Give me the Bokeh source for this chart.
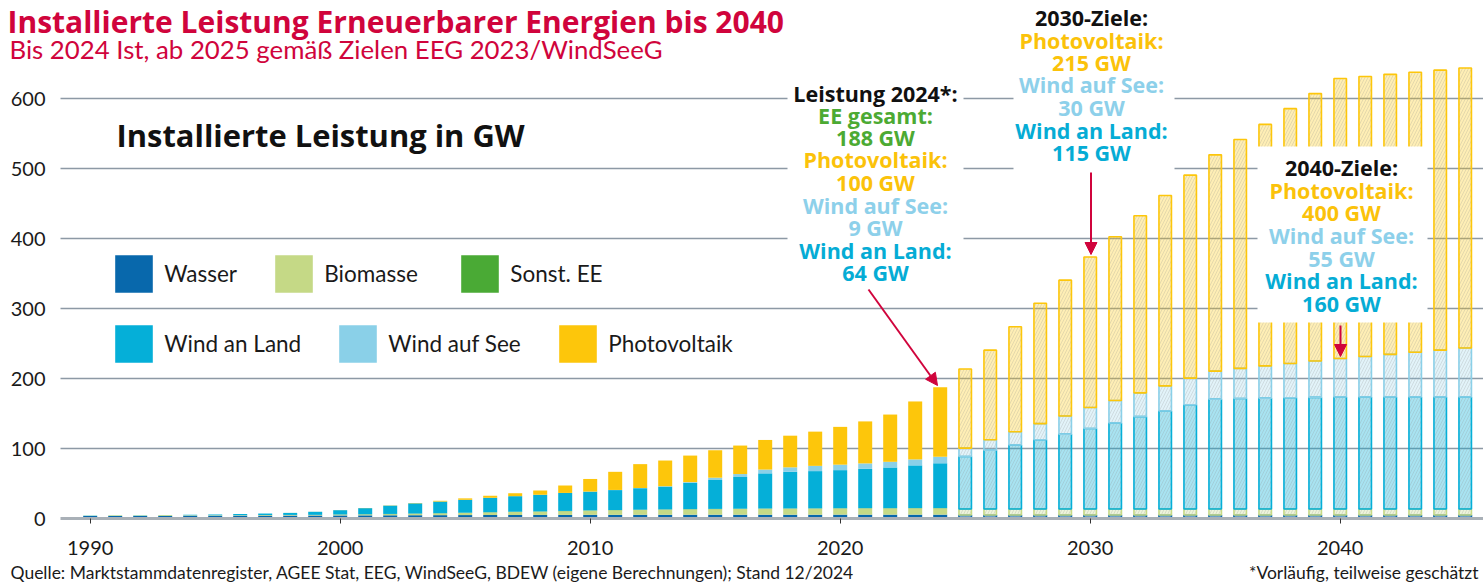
from bokeh.plotting import figure
from bokeh.models import (ColumnDataSource, Range1d, FixedTicker, Label, Legend,
                          LegendItem, Arrow, NormalHead, BoxAnnotation)
from bokeh.embed import file_html
from bokeh.resources import INLINE

# ---------------- data (GW) ----------------
years_hist = list(range(1990, 2025))
wasser_hist = [3.4, 3.5, 3.6, 3.7, 3.8, 3.9, 4.0, 4.1, 4.2, 4.3, 4.4, 4.5, 4.6, 4.7, 4.8,
               4.9, 5.0, 5.0, 5.1, 5.1, 5.2, 5.2, 5.3, 5.3, 5.4, 5.4, 5.4, 5.4, 5.4, 5.4,
               5.5, 5.5, 5.5, 5.5, 5.5]
biomasse_hist = [0.6, 0.6, 0.6, 0.7, 0.7, 0.7, 0.7, 0.8, 0.8, 0.8, 1.0, 1.2, 1.5, 2.0, 2.4,
                 3.0, 3.6, 4.3, 4.6, 5.3, 6.0, 6.5, 6.9, 7.3, 7.6, 7.9, 8.2, 8.5, 8.6, 8.7,
                 8.8, 8.9, 8.9, 9.0, 9.0]
sonst_hist = [0.1] * 10 + [0.4] * 25
onshore_hist = [0.06, 0.1, 0.2, 0.3, 0.6, 1.1, 1.5, 2.1, 2.9, 4.4, 6.1, 8.7, 11.9, 14.6, 16.6,
                18.4, 20.6, 22.2, 23.8, 25.7, 26.8, 28.5, 30.7, 32.6, 37.6, 41.3, 45.3, 50.2,
                52.3, 53.2, 54.4, 56.1, 58.1, 61.0, 64.0]
offshore_hist = [0.0] * 19 + [0.04, 0.08, 0.19, 0.27, 0.52, 0.99, 3.3, 4.2, 5.4, 6.4, 7.5,
                              7.8, 7.8, 8.1, 8.5, 9.2]
pv_hist = [0.002, 0.003, 0.006, 0.009, 0.012, 0.018, 0.028, 0.042, 0.054, 0.07, 0.11, 0.18,
           0.3, 0.44, 1.1, 2.06, 2.9, 4.2, 6.1, 10.6, 18.0, 25.9, 34.1, 36.7, 37.9, 39.2,
           40.7, 42.3, 45.2, 48.9, 54.0, 60.0, 67.5, 82.8, 99.3]

years_future = list(range(2025, 2046))
wasser_future = [5.0] * 21
biomasse_future = [8.5] * 21
onshore_future = [75, 84, 91.5, 99, 107, 115, 123, 132, 140, 149, 157, 158, 158.5, 159,
                  159.5, 160, 160, 160, 160, 160, 160]
offshore_future = [12, 15, 19, 23, 26, 30, 32, 34, 36, 38, 40, 43, 46, 49, 52, 55, 58, 61,
                   64, 67, 70]
pv_future = [113, 128, 150, 172, 194, 215, 234, 253, 272, 290, 309, 327, 345, 364, 382, 400,
             400, 400, 400, 400, 400]

categories = ["Wasser", "Biomasse", "Sonst. EE", "Wind an Land", "Wind auf See", "Photovoltaik"]
x_ticks = [1990, 2000, 2010, 2020, 2030, 2040]
y_ticks = [0, 100, 200, 300, 400, 500, 600]
grid_ticks = [100, 200, 300, 400, 500, 600]

# ---------------- styling ----------------
C_WASSER, C_BIO, C_SONST = "#0868ac", "#c5d986", "#4aaa35"
C_ON, C_OFF, C_PV = "#05afd8", "#8ad0e8", "#fdc60b"
CRIMSON = "#d0043c"
REG = "Lato"
BOLD = "Open Sans"

W, H = 1483, 585
# layout helpers (picture pixel -> data coordinate), for annotation placement only
X0_PX, PX_YEAR, BASE_PX, PX_GW = 89.7, 25.0, 518.0, 0.7
def X(px):
    return 1990 + (px - X0_PX) / PX_YEAR
def Y(py):
    return (BASE_PX - py) / PX_GW

p = figure(width=W, height=H, output_backend="svg", toolbar_location=None,
           x_range=Range1d(X(0), X(W)), y_range=Range1d(Y(H), Y(0)),
           min_border=0, min_border_left=0, min_border_right=0,
           min_border_top=0, min_border_bottom=0)
p.outline_line_color = None
p.background_fill_color = "white"
p.border_fill_color = "white"

# grid (horizontal lines from the y-axis to the right edge)
p.xgrid.visible = False
p.ygrid.ticker = FixedTicker(ticks=grid_ticks)
p.ygrid.grid_line_color = "#8d99a5"
p.ygrid.grid_line_width = 1.3
try:
    p.ygrid.cross_bounds = (X(60), X(W))
except Exception:
    p.ygrid.visible = False
    p.segment(x0=[X(60)] * len(grid_ticks), x1=[X(W)] * len(grid_ticks),
              y0=grid_ticks, y1=grid_ticks, line_color="#8d99a5", line_width=1.3)

# axes drawn at fixed data locations inside the canvas
p.yaxis.fixed_location = X(60)
p.yaxis.ticker = FixedTicker(ticks=y_ticks)
p.yaxis.bounds = (0, 600)
p.yaxis.axis_line_color = None
p.yaxis.major_tick_line_color = None
p.yaxis.minor_tick_line_color = None
p.yaxis.major_label_standoff = 9
p.yaxis.major_label_text_font = REG
p.yaxis.major_label_text_font_size = "20px"
p.yaxis.major_label_text_color = "#1a1a1a"

p.xaxis.fixed_location = 0
p.xaxis.ticker = FixedTicker(ticks=x_ticks)
p.xaxis.bounds = (X(60), X(W))
p.xaxis.axis_line_color = "#a9b0b7"
p.xaxis.axis_line_width = 3
p.xaxis.major_tick_out = 5
p.xaxis.major_tick_in = 0
p.xaxis.major_tick_line_color = "#333333"
p.xaxis.minor_tick_line_color = None
p.xaxis.major_label_standoff = 17
p.xaxis.major_label_text_font = REG
p.xaxis.major_label_text_font_size = "20px"
p.xaxis.major_label_text_color = "#1a1a1a"

# historic bars
src_h = ColumnDataSource(dict(year=years_hist, w=wasser_hist, b=biomasse_hist, s=sonst_hist,
                              on=onshore_hist, off=offshore_hist, pv=pv_hist))
rh = p.vbar_stack(["w", "b", "s", "on", "off", "pv"], x="year", width=0.56, source=src_h,
                  fill_color=[C_WASSER, C_BIO, C_SONST, C_ON, C_OFF, C_PV], line_color=None)

# future (target) bars, hatched
src_f = ColumnDataSource(dict(year=years_future, w=wasser_future, b=biomasse_future,
                              on=onshore_future, off=offshore_future, pv=pv_future))
p.vbar_stack(["w", "b", "on", "off", "pv"], x="year", width=0.5, source=src_f,
             fill_color=[C_WASSER, C_BIO, C_ON, C_OFF, C_PV],
             fill_alpha=[0.6, 0.3, 0.35, 0.25, 0.3],
             line_color=[C_WASSER, C_BIO, C_ON, C_OFF, C_PV], line_width=1.6,
             hatch_pattern="/", hatch_color="#8a8a8a", hatch_alpha=0.22,
             hatch_scale=6, hatch_weight=1)

# white boxes behind annotation texts
for (l, r, t, b) in [(787, 963, 75, 290), (1013, 1174, 0, 172), (1257, 1427, 146, 322)]:
    p.add_layout(BoxAnnotation(left=X(l), right=X(r), top=Y(t), bottom=Y(b),
                               fill_color="white", fill_alpha=1, line_color=None))

# legend: one item per legend so each square sits exactly where the reference has it
INSET = 4.7
legend_pos = [(115, 292), (275, 292), (461, 292), (115, 362), (339, 362), (559, 362)]
for i, (sx, sb) in enumerate(legend_pos):
    p.add_layout(Legend(items=[LegendItem(label=categories[i], renderers=[rh[i]])],
                        orientation="horizontal", location=(sx - INSET, H - (sb + INSET)),
                        glyph_width=47, glyph_height=47, label_standoff=7, spacing=0,
                        padding=0, margin=0, background_fill_alpha=0, border_line_color=None,
                        label_text_font=REG, label_text_font_size="22.5px",
                        label_text_color="#1a1a1a"))

# annotation texts
BLACK = "#111111"
T_GREEN, T_PV, T_OFF, T_ON = "#4caa33", "#fbc20a", "#8dd0ea", "#05acd5"
boxes = [
    (875, [93.3, 115, 136.7, 159, 181.7, 205, 226.7, 250, 271.7],
     [("Leistung 2024*:", BLACK), ("EE gesamt:", T_GREEN), ("188 GW", T_GREEN),
      ("Photovoltaik:", T_PV), ("100 GW", T_PV), ("Wind auf See:", T_OFF), ("9 GW", T_OFF),
      ("Wind an Land:", T_ON), ("64 GW", T_ON)]),
    (1091, [16.7, 40, 62, 84, 107, 130, 152],
     [("2030-Ziele:", BLACK), ("Photovoltaik:", T_PV), ("215 GW", T_PV),
      ("Wind auf See:", T_OFF), ("30 GW", T_OFF), ("Wind an Land:", T_ON), ("115 GW", T_ON)]),
    (1341, [166.7, 190, 212, 235, 257.7, 280, 302.7],
     [("2040-Ziele:", BLACK), ("Photovoltaik:", T_PV), ("400 GW", T_PV),
      ("Wind auf See:", T_OFF), ("55 GW", T_OFF), ("Wind an Land:", T_ON), ("160 GW", T_ON)]),
]
for cx, ys, lines in boxes:
    for yy, (txt, col) in zip(ys, lines):
        p.add_layout(Label(x=X(cx), y=Y(yy), text=txt, text_align="center",
                           text_baseline="middle", text_font=BOLD, text_font_style="bold",
                           text_font_size="21.5px", text_color=col))

# arrows
for (x0, y0, x1, y1) in [(868, 289, 937, 385), (1090.5, 172, 1090.5, 254), (1340, 325, 1340, 356)]:
    p.add_layout(Arrow(x_start=X(x0), y_start=Y(y0), x_end=X(x1), y_end=Y(y1),
                       line_color=CRIMSON, line_width=2,
                       end=NormalHead(size=12, fill_color=CRIMSON, line_color=CRIMSON)))

# titles and notes
p.add_layout(Label(x=X(7), y=Y(20.5), text="Installierte Leistung Erneuerbarer Energien bis 2040",
                   text_baseline="middle", text_font=BOLD, text_font_style="bold",
                   text_font_size="30px", text_color=CRIMSON))
p.add_layout(Label(x=X(9), y=Y(48.5), text="Bis 2024 Ist, ab 2025 gemäß Zielen EEG 2023/WindSeeG",
                   text_baseline="middle", text_font=REG, text_font_size="25.8px",
                   text_color=CRIMSON))
p.add_layout(Label(x=X(116), y=Y(134.5), text="Installierte Leistung in GW",
                   text_baseline="middle", text_font=BOLD, text_font_style="bold",
                   text_font_size="30.9px", text_color="#111111"))
p.add_layout(Label(x=X(10), y=Y(572),
                   text="Quelle: Marktstammdatenregister, AGEE Stat, EEG, WindSeeG, BDEW (eigene Berechnungen); Stand 12/2024",
                   text_baseline="middle", text_font=REG, text_font_size="17.5px",
                   text_color="#1a1a1a"))
p.add_layout(Label(x=X(1478), y=Y(572), text="*Vorläufig, teilweise geschätzt",
                   text_align="right", text_baseline="middle", text_font=REG,
                   text_font_size="17.5px", text_color="#1a1a1a"))

open("out.html", "w").write(file_html(p, INLINE))
